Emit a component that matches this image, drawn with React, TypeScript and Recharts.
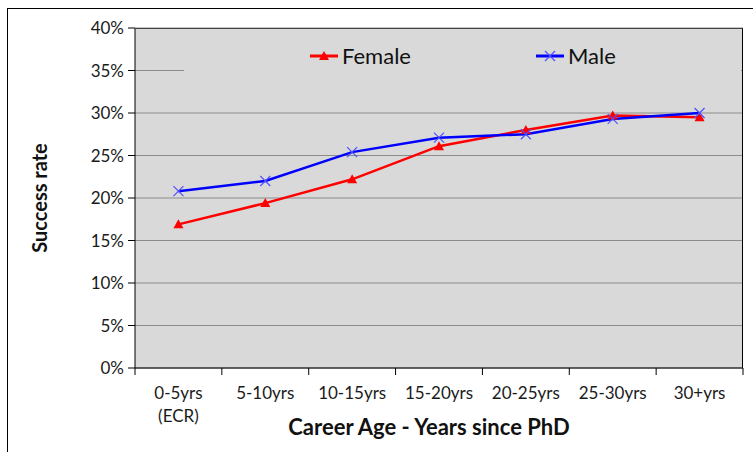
import { LineChart, Line, XAxis, YAxis, CartesianGrid, Legend } from 'recharts';

const categories = ['0-5yrs\n(ECR)', '5-10yrs', '10-15yrs', '15-20yrs', '20-25yrs', '25-30yrs', '30+yrs'];
const female = [16.9, 19.4, 22.2, 26.1, 28.0, 29.7, 29.5];
const male = [20.8, 22.0, 25.4, 27.1, 27.5, 29.3, 30.0];
const yTicks = [0, 5, 10, 15, 20, 25, 30, 35, 40];

const data = categories.map((c, i) => ({ name: c, Female: female[i], Male: male[i] }));

const FONT = 'Lato, "Open Sans", sans-serif';
const PLOT_LEFT = 135;
const PLOT_RIGHT = 743;
const BAND = (PLOT_RIGHT - PLOT_LEFT) / categories.length;

function Triangle({ cx, cy, size = 5 }: any) {
  if (cx == null || cy == null) return null;
  return (
    <polygon
      points={`${cx},${cy - size} ${cx - size},${cy + size * 0.8} ${cx + size},${cy + size * 0.8}`}
      fill="#ff0000"
    />
  );
}

function Cross({ cx, cy, size = 5 }: any) {
  if (cx == null || cy == null) return null;
  return (
    <g stroke="#5050ff" strokeWidth={1.2}>
      <line x1={cx - size} y1={cy - size} x2={cx + size} y2={cy + size} />
      <line x1={cx - size} y1={cy + size} x2={cx + size} y2={cy - size} />
    </g>
  );
}

function XTick({ x, y, payload, index }: any) {
  const lines = String(payload.value).split('\n');
  return (
    <g>
      <line x1={x - BAND / 2} y1={368} x2={x - BAND / 2} y2={375} stroke="#000" />
      {index === categories.length - 1 && (
        <line x1={x + BAND / 2} y1={368} x2={x + BAND / 2} y2={375} stroke="#000" />
      )}
      <text x={x} y={399} textAnchor="middle" fontSize={17} fill="#1a1a1a" fontFamily={FONT}>
        {lines.map((l, i) => (
          <tspan key={i} x={x} dy={i === 0 ? 0 : 23}>
            {l}
          </tspan>
        ))}
      </text>
    </g>
  );
}

function LegendBox({ payload }: any) {
  const pos: Record<string, number> = { Female: 126, Male: 352 };
  return (
    <div style={{ position: 'relative', width: 557, height: 40, background: '#d9d9d9' }}>
      {(payload || []).map((p: any) => (
        <div
          key={p.value}
          style={{ position: 'absolute', left: pos[p.value], top: 6, display: 'flex', alignItems: 'center' }}
        >
          <svg width={30} height={24}>
            <line x1={0} y1={12} x2={28} y2={12} stroke={p.color} strokeWidth={3} />
            {p.value === 'Female' ? <Triangle cx={14} cy={12} size={5} /> : <Cross cx={14} cy={12} size={5} />}
          </svg>
          <span style={{ fontFamily: FONT, fontSize: 22, color: '#111', marginLeft: 2, lineHeight: '24px' }}>
            {p.value}
          </span>
        </div>
      ))}
    </div>
  );
}

export default function App() {
  return (
    <div style={{ position: 'absolute', left: 0, top: 0, width: 753, height: 452, background: '#fff' }}>
      <div
        style={{
          position: 'absolute',
          left: 7,
          top: 8,
          width: 746,
          height: 444,
          borderLeft: '1px solid #000',
          borderTop: '1px solid #000',
        }}
      />
      <LineChart
        width={753}
        height={452}
        data={data}
        margin={{ top: 28, right: 10, bottom: 34, left: 75 }}
        style={{ position: 'absolute', left: 0, top: 0 }}
      >
        <CartesianGrid vertical={false} stroke="#8c8c8c" fill="#d9d9d9" />
        <XAxis
          dataKey="name"
          height={50}
          tickLine={false}
          axisLine={{ stroke: '#000' }}
          tick={<XTick />}
          interval={0}
          padding={{ left: BAND / 2, right: BAND / 2 }}
          label={({ viewBox }: any) => (
            <text
              x={429}
              y={435}
              textAnchor="middle"
              fontSize={22}
              fontWeight="bold"
              fill="#111"
              fontFamily={FONT}
            >
              Career Age - Years since PhD
            </text>
          )}
        />
        <YAxis
          width={60}
          domain={[0, 40]}
          ticks={yTicks}
          tickFormatter={(v: number) => `${v}%`}
          tick={{ fontSize: 17, fill: '#1a1a1a', fontFamily: FONT }}
          tickSize={7}
          tickLine={{ stroke: '#000' }}
          axisLine={{ stroke: '#000' }}
          tickMargin={4}
          label={() => (
            <text
              x={47}
              y={198}
              transform="rotate(-90, 47, 198)"
              textAnchor="middle"
              fontSize={20}
              fontWeight="bold"
              fill="#111"
              fontFamily={FONT}
            >
              Success rate
            </text>
          )}
        />
        <Legend
          verticalAlign="middle"
          align="center"
          content={<LegendBox />}
          wrapperStyle={{ position: 'absolute', left: 184, top: 38, width: 557 }}
        />
        <Line
          type="linear"
          dataKey="Female"
          stroke="#ff0000"
          strokeWidth={2.5}
          dot={<Triangle />}
          activeDot={false}
          isAnimationActive={false}
        />
        <Line
          type="linear"
          dataKey="Male"
          stroke="#0000ff"
          strokeWidth={2.5}
          dot={<Cross />}
          activeDot={false}
          isAnimationActive={false}
        />
      </LineChart>
      <div
        style={{
          position: 'absolute',
          left: PLOT_LEFT,
          top: 28,
          width: PLOT_RIGHT - PLOT_LEFT,
          height: 340,
          borderTop: '1px solid #444',
          borderRight: '1.5px solid #000',
          boxSizing: 'border-box',
          pointerEvents: 'none',
        }}
      />
    </div>
  );
}
